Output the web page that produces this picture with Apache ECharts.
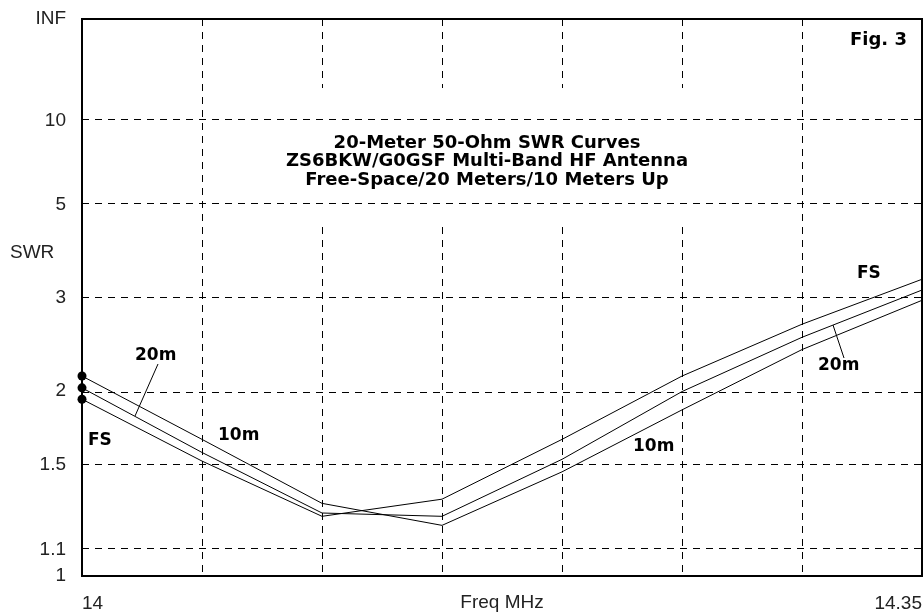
<!DOCTYPE html>
<html>
<head>
<meta charset="utf-8">
<script src="https://cdn.jsdelivr.net/npm/echarts@6/dist/echarts.min.js"></script>
<style>html,body{margin:0;padding:0;background:#fff}#c{width:924px;height:615px}</style>
</head>
<body>
<div id="c"></div>
<script>
// Frequencies (MHz)
const freq = [14.00, 14.05, 14.10, 14.15, 14.20, 14.25, 14.30, 14.35];
// SWR values
const swrFS  = [1.93, 1.52, 1.24, 1.32, 1.65, 2.12, 2.65, 3.28];
const swr20m = [2.02, 1.57, 1.255, 1.24, 1.53, 1.99, 2.50, 3.11];
const swr10m = [2.12, 1.65, 1.30, 1.20, 1.46, 1.85, 2.37, 2.96];
// Y tick values and labels
const swrTicks = [1, 1.1, 1.5, 2, 3, 5, 10, Infinity];
const swrTickLabels = ['1', '1.1', '1.5', '2', '3', '5', '10', 'INF'];
const swrGrid = [1.1, 1.5, 2, 3, 5, 10];
// X tick labels
const xLabelValues = [14, 14.35];
const xLabelTexts = ['14', '14.35'];
const titleLines = ['20-Meter 50-Ohm SWR Curves', 'ZS6BKW/G0GSF Multi-Band HF Antenna', 'Free-Space/20 Meters/10 Meters Up'];

function rho(s) { return isFinite(s) ? (s - 1) / (s + 1) : 1; }
function seriesData(vals) {
  return freq.map((f, i) => {
    const d = { value: [f, rho(vals[i])] };
    if (i === 0) { d.symbol = 'circle'; d.symbolSize = 9; }
    return d;
  });
}

const chart = echarts.init(document.getElementById('c'), null, { renderer: 'canvas' });
const lineStyle = { color: '#000', width: 1 };
chart.setOption({
  animation: false,
  backgroundColor: '#fff',
  grid: { left: 82, right: 2, top: 19, bottom: 39, show: true, borderColor: '#000', borderWidth: 2, backgroundColor: 'transparent', outerBoundsMode: 'none', containLabel: false },
  xAxis: {
    type: 'value', min: 14, max: 14.35, interval: 0.05,
    name: 'Freq MHz', nameLocation: 'middle', nameGap: 17, nameMoveOverlap: false,
    nameTextStyle: { fontFamily: 'Liberation Sans', fontSize: 19, color: '#222' },
    axisLine: { show: false }, axisTick: { show: false },
    axisLabel: {
      fontFamily: 'Liberation Sans', fontSize: 19, color: '#222', margin: 18,
      alignMinLabel: 'left', alignMaxLabel: 'right', showMinLabel: true, showMaxLabel: true,
      formatter: function (v) {
        for (let i = 0; i < xLabelValues.length; i++) if (Math.abs(v - xLabelValues[i]) < 1e-6) return xLabelTexts[i];
        return '';
      }
    },
    splitLine: { show: true, lineStyle: { color: '#000', width: 1, type: [7, 6] } }
  },
  yAxis: {
    type: 'value', min: 0, max: 1,
    axisLine: { show: false }, axisTick: { show: false }, splitLine: { show: false },
    axisLabel: {
      fontFamily: 'Liberation Sans', fontSize: 19, color: '#222', margin: 16,
      customValues: swrTicks.map(rho),
      formatter: function (v) {
        let best = 0, bd = 1e9;
        swrTicks.forEach((s, i) => { const d = Math.abs(rho(s) - v); if (d < bd) { bd = d; best = i; } });
        return swrTickLabels[best];
      }
    }
  },
  graphic: [
    { type: 'rect', z: 5, shape: { x: 246, y: 88, width: 495, height: 138 }, style: { fill: '#fff' } },
    { type: 'text', z: 6, x: 487, y: 134, style: { text: titleLines.join('\n'), font: 'bold 18px "DejaVu Sans"', fill: '#000', textAlign: 'center', textVerticalAlign: 'top', lineHeight: 18.5 } },
    { type: 'text', z: 6, x: 907, y: 31, style: { text: 'Fig. 3', font: 'bold 18px "DejaVu Sans"', fill: '#000', textAlign: 'right', textVerticalAlign: 'top' } },
    { type: 'text', z: 6, x: 10, y: 243, style: { text: 'SWR', font: '19px "Liberation Sans"', fill: '#222', textAlign: 'left', textVerticalAlign: 'top' } },
    { type: 'text', z: 6, x: 135, y: 347, style: { text: '20m', font: 'bold 17px "DejaVu Sans"', fill: '#000' } },
    { type: 'line', z: 6, shape: { x1: 158, y1: 364, x2: 135, y2: 416 }, style: { stroke: '#000', lineWidth: 1 } },
    { type: 'text', z: 6, x: 88, y: 432, style: { text: 'FS', font: 'bold 17px "DejaVu Sans"', fill: '#000' } },
    { type: 'text', z: 6, x: 218, y: 427, style: { text: '10m', font: 'bold 17px "DejaVu Sans"', fill: '#000' } },
    { type: 'text', z: 6, x: 857, y: 265, style: { text: 'FS', font: 'bold 17px "DejaVu Sans"', fill: '#000' } },
    { type: 'text', z: 6, x: 818, y: 357, style: { text: '20m', font: 'bold 17px "DejaVu Sans"', fill: '#000' } },
    { type: 'line', z: 6, shape: { x1: 844, y1: 358, x2: 833, y2: 325 }, style: { stroke: '#000', lineWidth: 1 } },
    { type: 'text', z: 6, x: 633, y: 438, style: { text: '10m', font: 'bold 17px "DejaVu Sans"', fill: '#000' } }
  ],
  series: [
    {
      name: 'FS', type: 'line', data: seriesData(swrFS), symbol: 'none', lineStyle: lineStyle, itemStyle: { color: '#000' },
      markLine: {
        silent: true, symbol: 'none', label: { show: false }, animation: false,
        lineStyle: { color: '#000', width: 1, type: [7, 6] },
        data: swrGrid.map(s => ({ yAxis: rho(s) }))
      }
    },
    { name: '20m', type: 'line', data: seriesData(swr20m), symbol: 'none', lineStyle: lineStyle, itemStyle: { color: '#000' } },
    { name: '10m', type: 'line', data: seriesData(swr10m), symbol: 'none', lineStyle: lineStyle, itemStyle: { color: '#000' } }
  ]
});
</script>
</body>
</html>
